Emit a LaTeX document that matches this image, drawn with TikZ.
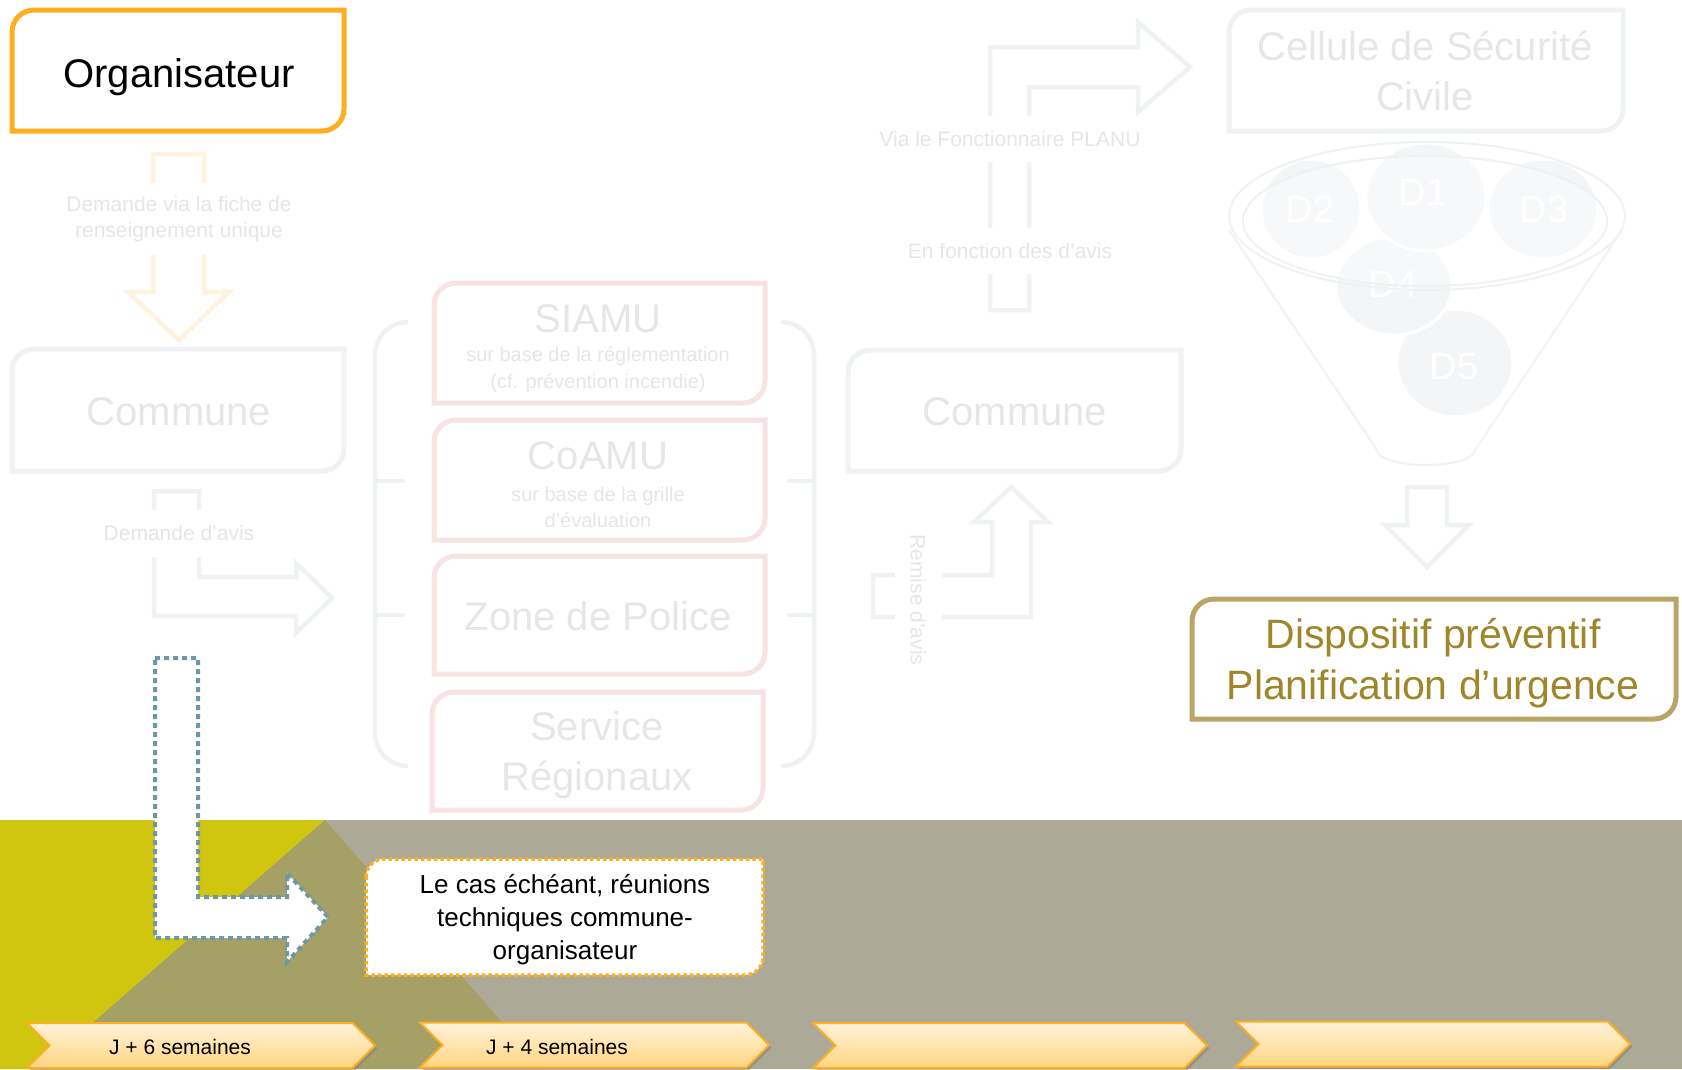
\documentclass[tikz,border=0pt]{standalone}
\usepackage{fontspec}
\setmainfont{Liberation Sans}
\usetikzlibrary{shapes.symbols,shadows}

\definecolor{orgaorange}{HTML}{FFAE1F}
\definecolor{fadeline}{HTML}{EFF2F3}
\definecolor{fadepink}{HTML}{F8E2E2}
\definecolor{fadegray}{HTML}{E4E6E7}
\definecolor{fadeorange}{HTML}{FFF2DF}
\definecolor{discfill}{HTML}{F3F5F6}
\definecolor{dispgold}{HTML}{BBA566}
\definecolor{disptext}{HTML}{9E8629}
\definecolor{steel}{HTML}{6E97A8}
\definecolor{bandgray}{HTML}{ACAA97}
\definecolor{bandyellow}{HTML}{D0C50F}
\definecolor{bandolive}{HTML}{A4A066}
\definecolor{chevtop}{HTML}{FFF2DA}
\definecolor{chevbottom}{HTML}{FFD680}

\newcommand{\fsz}[2]{\fontsize{#1}{#2}\selectfont}
% box with rounded top-left and bottom-right corners
\newcommand{\cornerbox}[6][22pt]{%
  \path[#2] ([yshift=-#1]#3,#4) arc[start angle=180, end angle=90, radius=#1]
    -- (#5,#4) -- ([yshift=#1]#5,#6) arc[start angle=0, end angle=-90, radius=#1]
    -- (#3,#6) -- cycle;}

\tikzset{
  orgabox/.style={draw=orgaorange, line width=5pt},
  fadebox/.style={draw=fadeline, line width=5pt},
  pinkbox/.style={draw=fadepink, line width=5pt},
  dispbox/.style={draw=dispgold, line width=5pt},
  reubox/.style={draw=orgaorange, fill=white, line width=3.5pt, dash pattern=on 3.5pt off 3pt},
  fadearrow/.style={draw=fadeline, line width=4.5pt},
  fadeorangearrow/.style={draw=fadeorange, line width=4.5pt},
  dotarrow/.style={draw=steel, fill=white, line width=4pt, dash pattern=on 5pt off 4pt},
  brk/.style={draw=fadeline, line width=4.5pt},
  rim/.style={draw=fadeline, line width=2pt},
  disc/.style={fill=discfill, draw=white, line width=3pt},
  disctext/.style={text=white, font=\fsz{38}{46}},
  fadetext/.style={text=fadegray},
  labelgap/.style={fill=white, text=fadegray, inner sep=2pt, font=\fsz{21}{26}},
  chev/.style={signal, signal to=east, signal from=west, signal pointer angle=90,
    minimum height=45pt, inner sep=0pt, draw=orgaorange, line width=2pt,
    top color=chevtop, bottom color=chevbottom,
    drop shadow={shadow xshift=2.5pt, shadow yshift=-2.5pt, opacity=0.55}},
  chevtext/.style={font=\fsz{21}{25}}
}

\begin{document}
\begin{tikzpicture}[x=1pt, y=-1pt]
  \useasboundingbox (0,0) rectangle (1682,1069);
  % Band
  \fill[bandgray] (0,820) rectangle (1682,1069);
  \fill[bandyellow] (0,820) -- (325,820) -- (40,1069) -- (0,1069) -- cycle;
  \fill[bandolive] (325,820) -- (543,1069) -- (40,1069) -- cycle;

  % Boxes
  \cornerbox{orgabox}{12}{10}{344}{131}
  \cornerbox{fadebox}{12}{349}{344}{471}
  \cornerbox{fadebox}{848}{350}{1181}{471}
  \cornerbox{fadebox}{1229}{10}{1623}{131}
  \cornerbox{pinkbox}{434}{283}{765}{403}
  \cornerbox{pinkbox}{434}{420}{765}{540}
  \cornerbox{pinkbox}{434}{556}{765}{674}
  \cornerbox{pinkbox}{432}{692}{763}{810}
  \cornerbox{dispbox}{1192}{599}{1676}{719}
  \cornerbox[18pt]{reubox}{366}{859}{763}{975}

  % Brackets
  \draw[brk] (408,322) arc[start angle=90, end angle=180, radius=33pt] -- (375,733)
    arc[start angle=180, end angle=270, radius=33pt];
  \draw[brk] (375,481) -- (405,481) (375,615) -- (405,615);
  \draw[brk] (781,322) arc[start angle=90, end angle=0, radius=33pt] -- (814,733)
    arc[start angle=0, end angle=-90, radius=33pt];
  \draw[brk] (787,481) -- (814,481) (787,615) -- (814,615);

  % Block arrows
  \draw[fadeorangearrow] (153,154) -- (204,154) -- (204,292) -- (229,292) -- (179,340)
    -- (128,292) -- (153,292) -- cycle;
  \draw[fadearrow] (154,491) -- (199,491) -- (199,577) -- (296,577) -- (296,563)
    -- (332,598) -- (296,633) -- (296,616) -- (154,616) -- cycle;
  \draw[fadearrow] (873,575) -- (992,575) -- (992,522) -- (974,522) -- (1011,487)
    -- (1048,522) -- (1031,522) -- (1031,617) -- (873,617) -- cycle;
  \draw[fadearrow] (990,310) -- (1029,310) -- (1029,87) -- (1138,87) -- (1138,112)
    -- (1190,67) -- (1138,22) -- (1138,47) -- (990,47) -- cycle;
  \draw[fadearrow] (1407,487) -- (1447,487) -- (1447,525) -- (1469,525) -- (1427,567)
    -- (1385,525) -- (1407,525) -- cycle;
  \draw[dotarrow] (155,658) -- (198,658) -- (198,897) -- (287,897) -- (287,873)
    -- (328,917) -- (287,962) -- (287,938) -- (155,938) -- cycle;

  % Funnel
  \draw[rim] (1229,230) -- (1377,450) arc[start angle=180, end angle=360, x radius=49pt, y radius=15pt]
    -- (1622,230);
  \draw[disc] (1455,363) ellipse[x radius=58, y radius=54];
  \draw[disc] (1394,286) ellipse[x radius=58, y radius=49];
  \draw[disc] (1543,209) ellipse[x radius=55, y radius=50];
  \draw[disc] (1311,209) ellipse[x radius=50, y radius=50];
  \draw[disc] (1426,197) ellipse[x radius=60, y radius=54];
  \node[disctext] (d5) at (1454,367) {D5};
  \node[disctext] (d4) at (1393,284) {D4};
  \node[disctext] (d3) at (1544,209) {D3};
  \node[disctext] (d2) at (1310,209) {D2};
  \node[disctext] (d1) at (1423,192) {D1};
  \draw[rim, fill=white, fill opacity=0.35] (1425,221) ellipse[x radius=182, y radius=65];
  \draw[rim] (1427,216) ellipse[x radius=198, y radius=74];

  % Nodes
  \node[font=\fsz{40}{48}] (orga) at (179,77) {Organisateur};
  \node[fadetext, font=\fsz{40}{48}] (commune1) at (179,412) {Commune};
  \node[fadetext, font=\fsz{40}{48}] (commune2) at (1015,412) {Commune};
  \node[fadetext, align=center, font=\fsz{40}{50}] (cellule) at (1425,71) {Cellule de Sécurité\\Civile};
  \node[fadetext, font=\fsz{40}{48}] (siamu) at (598,319) {SIAMU};
  \node[fadetext, align=center, font=\fsz{20}{27}] (siamusub) at (598,370) {sur base de la réglementation\\(cf. prévention incendie)};
  \node[fadetext, font=\fsz{40}{48}] (coamu) at (598,456) {CoAMU};
  \node[fadetext, align=center, font=\fsz{20}{26}] (coamusub) at (598,507) {sur base de la grille\\d’évaluation};
  \node[fadetext, font=\fsz{40}{48}] (zone) at (598,616) {Zone de Police};
  \node[fadetext, align=center, font=\fsz{40}{50}] (service) at (597,755) {Service\\Régionaux};
  \node[text=disptext, align=center, font=\fsz{41}{51}] (disp) at (1433,663) {Dispositif préventif\\Planification d’urgence};
  \node[align=center, font=\fsz{26}{33}] (reunion) at (565,920) {Le cas échéant, réunions\\techniques commune-\\organisateur};

  % Arrow labels
  \node[labelgap, align=center, minimum height=72pt] (fiche) at (179,219) {Demande via la fiche de\\renseignement unique};
  \node[labelgap, minimum height=47pt] (avis) at (179,533) {Demande d’avis};
  \node[labelgap, rotate=-90, minimum height=47pt] (remise) at (918,600) {Remise d’avis};
  \node[labelgap, minimum height=46pt] (planu) at (1010,139) {Via le Fonctionnaire PLANU};
  \node[labelgap, minimum height=46pt] (fonction) at (1010,251) {En fonction des d’avis};

  % Timeline
  \node[chev, minimum width=348pt] (jsix) at (201,1045.5) {};
  \node[chev, minimum width=349pt] (jfour) at (594.5,1045) {};
  \node[chev, minimum width=394pt] (jthree) at (1010,1045.5) {};
  \node[chev, minimum width=394pt] (jend) at (1433,1044) {};
  \node[chevtext] (jsixt) at (180,1047) {J + 6 semaines};
  \node[chevtext] (jfourt) at (557,1047) {J + 4 semaines};
\end{tikzpicture}
\end{document}
